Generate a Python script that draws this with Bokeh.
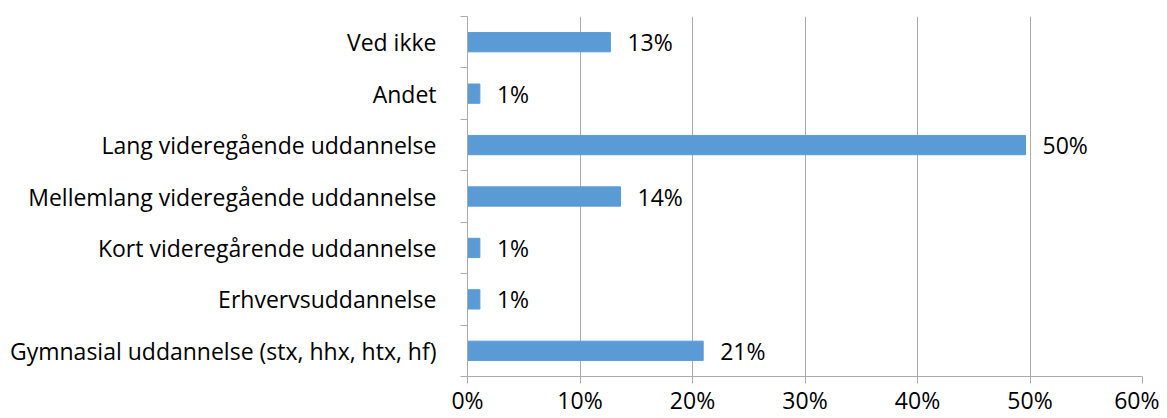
from bokeh.plotting import figure
from bokeh.models import ColumnDataSource, FixedTicker, NumeralTickFormatter, Range1d
from bokeh.core.properties import value
from bokeh.embed import file_html
from bokeh.resources import INLINE

# Data (top to bottom as shown)
categories = [
    "Ved ikke",
    "Andet",
    "Lang videregående uddannelse",
    "Mellemlang videregående uddannelse",
    "Kort videregårende uddannelse",
    "Erhvervsuddannelse",
    "Gymnasial uddannelse (stx, hhx, htx, hf)",
]
shares = [0.127, 0.011, 0.496, 0.136, 0.011, 0.011, 0.2095]
x_ticks = [0.0, 0.1, 0.2, 0.3, 0.4, 0.5, 0.6]

FONT = "Open Sans"
FS = "23px"
TEXT = "#000000"
GRID = "#ABABAB"
BAR = "#5B9BD5"

n = len(categories)
ypos = [n - i - 0.5 for i in range(n)]
labels = [f"{round(v * 100):.0f}%" for v in shares]

src = ColumnDataSource(dict(y=ypos, v=shares, lab=labels))

p = figure(width=1159, height=418, output_backend="svg", toolbar_location=None,
           x_range=Range1d(0, 0.6), y_range=Range1d(0, n))
p.min_border_left = 467
p.min_border_right = 17
p.min_border_top = 16
p.min_border_bottom = 35
p.outline_line_color = None
p.background_fill_color = "white"
p.border_fill_color = "white"

p.hbar(y="y", left=0, right="v", height=0.375, source=src,
       fill_color=BAR, line_color=BAR)
p.text(x="v", y="y", text="lab", source=src, x_offset=17,
       text_baseline="middle", text_align="left",
       text_font=value(FONT), text_font_size=FS, text_color=TEXT)

# x axis
xa = p.xaxis[0]
xa.ticker = FixedTicker(ticks=x_ticks)
xa.formatter = NumeralTickFormatter(format="0%")
xa.axis_line_color = GRID
xa.major_tick_line_color = GRID
xa.major_tick_out = 7
xa.major_tick_in = 0
xa.minor_tick_line_color = None
xa.major_label_text_font = FONT
xa.major_label_text_font_size = FS
xa.major_label_text_color = TEXT
xa.major_label_standoff = 0

# y axis
ya = p.yaxis[0]
ya.ticker = FixedTicker(ticks=ypos, minor_ticks=list(range(n + 1)))
ya.major_label_overrides = {y: c for y, c in zip(ypos, categories)}
ya.axis_line_color = GRID
ya.major_tick_line_color = None
ya.major_tick_out = 0
ya.major_tick_in = 0
ya.minor_tick_line_color = GRID
ya.minor_tick_out = 7
ya.minor_tick_in = 0
ya.major_label_text_font = FONT
ya.major_label_text_font_size = FS
ya.major_label_text_color = TEXT
ya.major_label_standoff = 24

p.xgrid.grid_line_color = GRID
p.xgrid.ticker = FixedTicker(ticks=x_ticks)
p.ygrid.grid_line_color = None

open("out.html", "w").write(file_html(p, INLINE))
